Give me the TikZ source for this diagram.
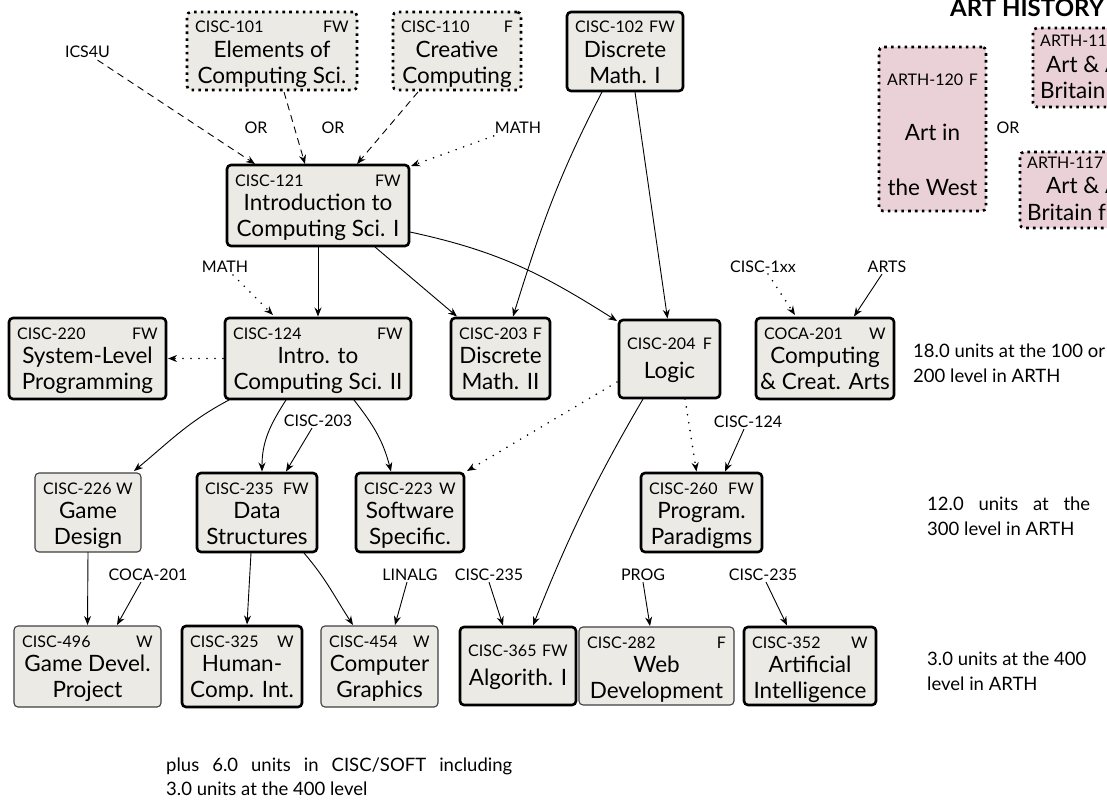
\documentclass[tikz,border=0pt]{standalone}
\usepackage{fontspec}
\setmainfont{Lato}
\usetikzlibrary{arrows.meta,calc,fit}
\definecolor{boxfill}{RGB}{235,234,228}
\definecolor{pinkfill}{RGB}{234,209,215}
\tikzset{
  cbase/.style={rounded corners=4pt, fill=boxfill, inner sep=0pt, outer sep=0pt},
  thickbox/.style={cbase, draw=black, line width=2.6pt},
  thinbox/.style={cbase, draw=black!75, line width=1.1pt},
  dotbox/.style={cbase, draw=black, line width=2.6pt, dash pattern=on 2.6pt off 4.2pt},
  pinkbox/.style={dotbox, fill=pinkfill},
  codetxt/.style={font=\fontsize{16}{18}\selectfont, inner sep=0pt},
  bodytxt/.style={font=\fontsize{22.5}{25}\selectfont, inner sep=0pt},
  lbl/.style={font=\fontsize{16}{18}\selectfont, inner sep=1pt},
  notetxt/.style={font=\fontsize{18.5}{24}\selectfont, inner sep=0pt, anchor=base west},
  edge/.style={line width=0.9pt, -{Stealth[length=9pt,width=7pt]}},
  dashedge/.style={edge, dash pattern=on 7pt off 5pt},
  dotedge/.style={edge, line width=1.8pt, line cap=round, dash pattern=on 0pt off 8pt},
}
\newcommand\course[8]{%
  \node[#4, fit={(#2) (#3)}] (#1) {};
  \node[codetxt, anchor=base west] (#1c) at ($(#1.north west)+(8,21)$) {#5};
  \node[codetxt, anchor=base east] (#1s) at ($(#1.north east)+(-8,21)$) {#6};
  \node[bodytxt, anchor=base] (#1a) at ($(#1.north)+(0,45.5)$) {#7};
  \node[bodytxt, anchor=base] (#1b) at ($(#1.north)+(0,71)$) {#8};
}
\newcommand\courseS[7]{%
  \node[#4, fit={(#2) (#3)}] (#1) {};
  \node[codetxt, anchor=base west] (#1c) at ($(#1.north west)+(8,29)$) {#5};
  \node[codetxt, anchor=base east] (#1s) at ($(#1.north east)+(-8,29)$) {#6};
  \node[bodytxt, anchor=base] (#1a) at ($(#1.north)+(0,58.5)$) {#7};
}
\begin{document}
\begin{tikzpicture}[x=1pt,y=-1pt]
\useasboundingbox (0,0) rectangle (1107,800);
\clip (0,0) rectangle (1107,800);
\fill[white] (0,0) rectangle (1107,800);

% course boxes
\course{c101}{187,12}{357,90}{dotbox}{CISC-101}{FW}{Elements of}{Computing Sci.}
\course{c110}{393,12}{521,90}{dotbox}{CISC-110}{F}{Creative}{Computing}
\course{c102}{567,12}{683,91}{thickbox}{CISC-102}{FW}{Discrete}{Math. I}
\course{c121}{227,165}{409,246}{thickbox}{CISC-121}{FW}{Introduction to}{Computing Sci. I}
\course{c220}{9,318}{166,399}{thickbox}{CISC-220}{FW}{System-Level}{Programming}
\course{c124}{225,318}{411,399}{thickbox}{CISC-124}{FW}{Intro. to}{Computing Sci. II}
\course{c203}{451,318}{550,399}{thickbox}{CISC-203}{F}{Discrete}{Math. II}
\courseS{c204}{619,320}{720,398}{thickbox}{CISC-204}{F}{Logic}
\course{coca}{756,318}{894,399}{thickbox}{COCA-201}{W}{Computing}{\& Creat. Arts}
\course{c226}{35,473}{141,552}{thinbox}{CISC-226}{W}{Game}{Design}
\course{c235}{197,473}{317,552}{thickbox}{CISC-235}{FW}{Data}{Structures}
\course{c223}{356,473}{464,552}{thickbox}{CISC-223}{W}{Software}{Specific.}
\course{c260}{641,473}{762,552}{thickbox}{CISC-260}{FW}{Program.}{Paradigms}
\course{c496}{14,626}{161,707}{thinbox}{CISC-496}{W}{Game Devel.}{Project}
\course{c325}{182,626}{302,707}{thickbox}{CISC-325}{W}{Human-}{Comp. Int.}
\course{c454}{321,626}{438,707}{thinbox}{CISC-454}{W}{Computer}{Graphics}
\courseS{c365}{460,627}{576,705}{thickbox}{CISC-365}{FW}{Algorith. I}
\course{c282}{579,627}{734,705}{thinbox}{CISC-282}{F}{Web}{Development}
\course{c352}{744,627}{876,705}{thickbox}{CISC-352}{W}{Artificial}{Intelligence}

% art history
\node[font=\fontsize{24}{26}\selectfont\bfseries, anchor=base west, inner sep=0pt] (title) at (950,17) {ART HISTORY};
\node[pinkbox, fit={(879,47) (986,211)}] (a120) {};
\node[codetxt, anchor=base west] (a120c) at ($(a120.north west)+(8,38)$) {ARTH-120};
\node[codetxt, anchor=base east] (a120s) at ($(a120.north east)+(-8,38)$) {F};
\node[bodytxt, anchor=base] (a120a) at ($(a120.north)+(0,93)$) {Art in};
\node[bodytxt, anchor=base] (a120b) at ($(a120.north)+(0,148)$) {the West};
\node[pinkbox, fit={(1033,28) (1170,107)}] (a116) {};
\node[codetxt, anchor=base west] (a116c) at (1040,47) {ARTH-116};
\node[bodytxt, anchor=base west] (a116a) at (1046,72) {Art \& A};
\node[bodytxt, anchor=base west] (a116b) at (1040,98) {Britain};
\node[pinkbox, fit={(1020,152) (1170,228)}] (a117) {};
\node[codetxt, anchor=base west] (a117c) at (1027,168) {ARTH-117};
\node[bodytxt, anchor=base west] (a117a) at (1046,193) {Art \& A};
\node[bodytxt, anchor=base west] (a117b) at (1027,220) {Britain f};
\node[lbl] (orart) at (1008,128) {OR};

% notes
\node[notetxt] (n1a) at (913,357) {18.0 units at the 100 or};
\node[notetxt] (n1b) at (913,382) {200 level in ARTH};
\node[notetxt] (n2a) at (927,510) {\makebox[163pt][s]{12.0 units at the}};
\node[notetxt] (n2b) at (927,535) {300 level in ARTH};
\node[notetxt] (n3a) at (927,665) {3.0 units at the 400};
\node[notetxt] (n3b) at (927,690) {level in ARTH};
\node[notetxt] (n4a) at (166,771) {\makebox[346pt][s]{plus 6.0 units in CISC/SOFT including}};
\node[notetxt] (n4b) at (166,795) {3.0 units at the 400 level};

% labels
\node[lbl] (ics) at (87.5,52) {ICS4U};
\node[lbl] (or1) at (256,128) {OR};
\node[lbl] (or2) at (333,128) {OR};
\node[lbl] (math1) at (518,128) {MATH};
\node[lbl] (math2) at (225,267) {MATH};
\node[lbl] (l1xx) at (763,267) {CISC-1xx};
\node[lbl] (arts) at (887,267) {ARTS};
\node[lbl] (l203) at (318,421) {CISC-203};
\node[lbl] (l124) at (748,422) {CISC-124};
\node[lbl] (lcoca) at (148,575) {COCA-201};
\node[lbl] (linalg) at (410,575) {LINALG};
\node[lbl] (l235a) at (489,575) {CISC-235};
\node[lbl] (prog) at (643,575) {PROG};
\node[lbl] (l235b) at (763,575) {CISC-235};

% connectors
\draw[dashedge] ($(ics.south)+(10,1)$) -- ($(c121.north west)+(28,-1)$);
\draw[dashedge] ($(c101.south)+(12,2)$) -- ($(c121.north)+(-13,-1)$);
\draw[dashedge] ($(c110.south west)+(25,2)$) -- ($(c121.north)+(39,-1)$);
\draw[dotedge] ($(math1.south west)+(0,1)$) -- ($(c121.north east)+(2,1)$);
\draw[edge] ($(c102.south)+(-23,1)$) .. controls +(-44,85) and +(28,-90) .. ($(c203.north)+(12.5,-1.5)$);
\draw[edge] ($(c102.south)+(10,1)$) -- ($(c204.north)+(-2,-1.5)$);
\draw[edge] (c121.south) -- ($(c124.north)+(0,-1.5)$);
\draw[edge] ($(c121.south)+(57,1)$) -- ($(c203.north west)+(6,-1.5)$);
\draw[edge] ($(c121.south east)+(1,-14)$) .. controls +(88,19) and +(-76,-48) .. ($(c204.north west)+(-2,1)$);
\draw[dotedge] ($(math2.south)+(8,1)$) -- ($(c124.north west)+(48,-3)$);
\draw[dotedge] ($(c124.west)+(-2,0)$) -- ($(c220.east)+(2,0)$);
\draw[edge] ($(c124.south west)+(4,1)$) .. controls +(-40,21) and +(35,-29) .. ($(c226.north east)+(-7,-2)$);
\draw[edge] ($(c124.south west)+(61,1)$) .. controls +(-16,25) and +(0,-30) .. ($(c235.north)+(5,-1.5)$);
\draw[edge] ($(l203.south)+(-6,0)$) -- ($(c235.north)+(29,-1.5)$);
\draw[edge] ($(c124.south west)+(129,1)$) .. controls +(19.5,25) and +(-8,-31) .. ($(c223.north)+(-19,-1.5)$);
\draw[dotedge] ($(c204.south west)+(-2,-16)$) -- ($(c223.north east)+(3,-2)$);
\draw[dotedge] ($(c204.south)+(15.5,1)$) -- ($(c260.north)+(-5,-1.5)$);
\draw[edge] ($(l124.south)+(-4,0)$) -- ($(c260.north)+(23.5,-1.5)$);
\draw[edge] ($(c204.south)+(-26.5,1)$) .. controls +(-48,82) and +(35,-88) .. ($(c365.north)+(15,-1.5)$);
\draw[dotedge] ($(l1xx.south)+(5,0)$) -- ($(coca.north west)+(39,-3)$);
\draw[edge] ($(arts.south)+(-5,0)$) -- ($(coca.north east)+(-40,-1.5)$);
\draw[edge] (c226.south) -- ($(c496.north)+(0,-1)$);
\draw[edge] ($(lcoca.south)+(-7,0)$) -- ($(c496.north)+(29.5,-1)$);
\draw[edge] ($(c235.south)+(-6,1)$) -- ($(c325.north)+(5,-1.5)$);
\draw[edge] ($(c235.south east)+(-13,1)$) .. controls +(23,27) and +(-19,-29) .. ($(c454.north)+(-26.5,-1)$);
\draw[edge] ($(linalg.south)+(-3,0)$) -- ($(c454.north)+(15.5,-1)$);
\draw[edge] (l235a.south) -- ($(c365.north)+(-15,-1.5)$);
\draw[edge] (prog.south) -- ($(c282.north)+(-6.5,-1)$);
\draw[edge] ($(l235b.south)+(3,0)$) -- ($(c352.north)+(-23,-1.5)$);
\end{tikzpicture}
\end{document}
